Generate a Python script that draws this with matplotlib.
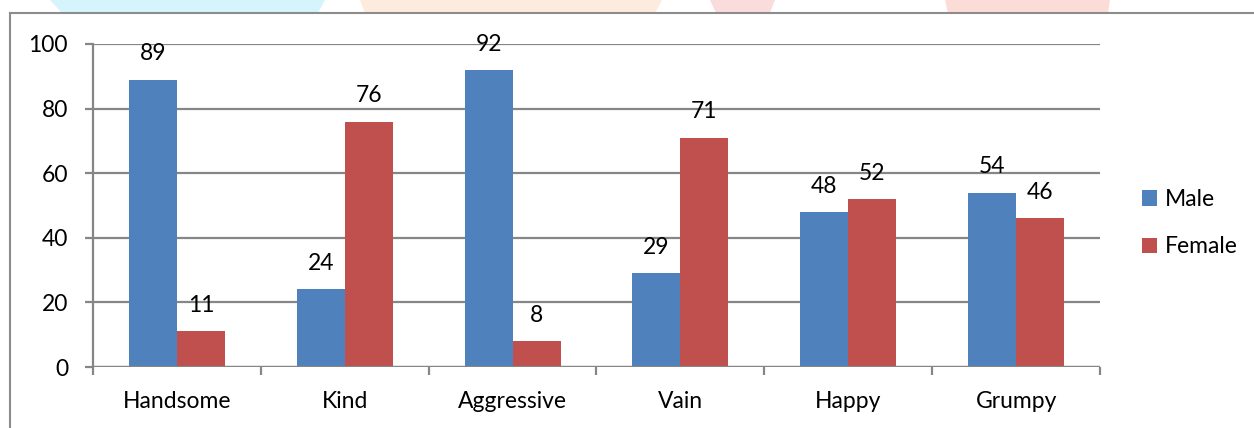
import matplotlib
matplotlib.use("Agg")
import matplotlib.pyplot as plt
from matplotlib.patches import Polygon
from matplotlib.lines import Line2D
import numpy as np

categories = ["Handsome", "Kind", "Aggressive", "Vain", "Happy", "Grumpy"]
male = [89, 24, 92, 29, 48, 54]
female = [11, 76, 8, 71, 52, 46]
series_names = ["Male", "Female"]
colors = ["#4F81BD", "#C0504D"]
yticks = [0, 20, 40, 60, 80, 100]

plt.rcParams["font.family"] = ["Lato", "DejaVu Sans"]
FS = 16.5

W, H = 1254, 428
fig = plt.figure(figsize=(W / 100, H / 100), dpi=100)

# faint banner shapes along the very top edge
def px_poly(points, color):
    pts = [(x / W, 1 - y / H) for x, y in points]
    fig.patches.append(Polygon(pts, closed=True, transform=fig.transFigure,
                               facecolor=color, edgecolor="none", zorder=0))

px_poly([(50, 0), (325, 0), (318, 13), (62, 13)], "#D6F4FB")
px_poly([(360, 0), (662, 0), (655, 13), (365, 13)], "#FDEBDD")
px_poly([(710, 0), (775, 0), (770, 13), (716, 13)], "#FBDCDC")
px_poly([(945, 0), (1110, 0), (1108, 13), (948, 13)], "#FCDCD6")

# outer chart frame
frame_color = "#8C8C8C"
fig.lines.append(Line2D([10 / W, 10 / W], [0, 1 - 13 / H], transform=fig.transFigure,
                        color=frame_color, lw=1.5))
fig.lines.append(Line2D([10 / W, 1], [1 - 13 / H, 1 - 13 / H], transform=fig.transFigure,
                        color=frame_color, lw=1.5))

left, right, top, bottom = 93, 1100, 44, 367
ax = fig.add_axes([left / W, 1 - bottom / H, (right - left) / W, (bottom - top) / H])

x = np.arange(len(categories))
bw = 0.286
b1 = ax.bar(x - bw / 2, male, bw, color=colors[0], label=series_names[0], zorder=3)
b2 = ax.bar(x + bw / 2, female, bw, color=colors[1], label=series_names[1], zorder=3)

for bars, vals in ((b1, male), (b2, female)):
    for rect, v in zip(bars, vals):
        ax.annotate(str(v), (rect.get_x() + rect.get_width() / 2, v),
                    xytext=(0, 11), textcoords="offset points",
                    ha="center", va="bottom", fontsize=FS, color="#000000")

ax.set_xlim(-0.5, len(categories) - 0.5)
ax.set_ylim(0, 100)
ax.set_yticks(yticks)
ax.set_yticklabels([str(t) for t in yticks], fontsize=FS)
ax.set_xticks(x)
ax.set_xticklabels(categories, fontsize=FS)
ax.set_xticks(np.arange(len(categories) + 1) - 0.5, minor=True)

grid_color = "#868686"
ax.yaxis.grid(True, color=grid_color, lw=1.6, zorder=0)
ax.set_axisbelow(True)
for s in ["top", "right", "bottom"]:
    ax.spines[s].set_visible(False)
ax.spines["left"].set_color(grid_color)
ax.spines["left"].set_linewidth(1.6)
ax.axhline(0, color=grid_color, lw=1.6, zorder=4)

ax.tick_params(axis="y", length=6, width=1.6, color=grid_color, pad=12)
ax.tick_params(axis="x", which="major", length=0, pad=17)
ax.tick_params(axis="x", which="minor", length=6, width=1.6, color=grid_color)

leg = ax.legend(loc="center left", bbox_to_anchor=(1.042, 0.445), frameon=False,
                fontsize=FS, handlelength=0.65, handleheight=0.65, handletextpad=0.35,
                labelspacing=1.15, borderpad=0, borderaxespad=0)

fig.savefig("out.png", dpi=100)
